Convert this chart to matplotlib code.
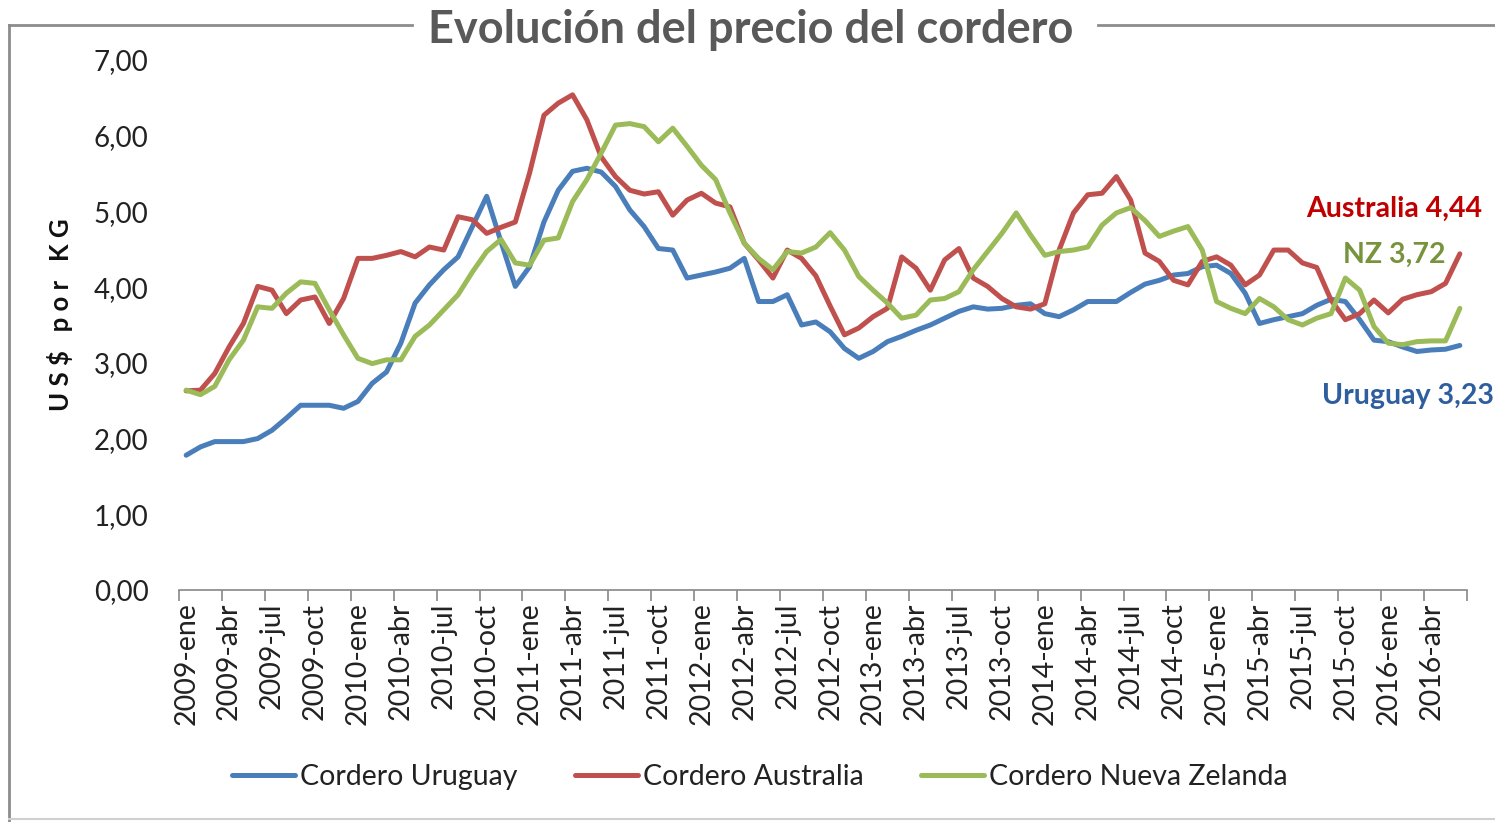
import matplotlib
matplotlib.use("Agg")
import matplotlib.pyplot as plt
from matplotlib.lines import Line2D

years = [2009, 2010, 2011, 2012, 2013, 2014, 2015, 2016]
month_names = ["ene", "feb", "mar", "abr", "may", "jun", "jul", "ago", "sep", "oct", "nov", "dic"]

uruguay = [1.78, 1.89, 1.96, 1.96, 1.96, 2.00, 2.11, 2.27, 2.44, 2.44, 2.44, 2.40,
           2.49, 2.73, 2.88, 3.26, 3.79, 4.03, 4.23, 4.40, 4.80, 5.20, 4.60, 4.01,
           4.27, 4.86, 5.28, 5.53, 5.57, 5.52, 5.33, 5.02, 4.80, 4.51, 4.49, 4.12,
           4.16, 4.20, 4.25, 4.38, 3.81, 3.81, 3.90, 3.50, 3.54, 3.41, 3.19, 3.06,
           3.15, 3.28, 3.35, 3.43, 3.50, 3.59, 3.68, 3.74, 3.71, 3.72, 3.76, 3.78,
           3.65, 3.61, 3.70, 3.81, 3.81, 3.81, 3.93, 4.04, 4.09, 4.16, 4.18, 4.27,
           4.29, 4.18, 3.92, 3.52, 3.57, 3.61, 3.65, 3.76, 3.84, 3.81, 3.57, 3.30,
           3.28, 3.21, 3.15, 3.17, 3.18, 3.23]

australia = [2.63, 2.64, 2.86, 3.21, 3.52, 4.01, 3.96, 3.65, 3.83, 3.87, 3.52, 3.85,
             4.38, 4.38, 4.42, 4.47, 4.40, 4.53, 4.49, 4.93, 4.89, 4.71, 4.79, 4.86,
             5.51, 6.27, 6.43, 6.54, 6.21, 5.72, 5.46, 5.28, 5.23, 5.26, 4.95, 5.15,
             5.24, 5.11, 5.06, 4.58, 4.36, 4.12, 4.49, 4.38, 4.15, 3.75, 3.37, 3.46,
             3.61, 3.72, 4.40, 4.25, 3.96, 4.36, 4.51, 4.12, 4.01, 3.85, 3.74, 3.71,
             3.78, 4.49, 4.98, 5.22, 5.24, 5.46, 5.15, 4.45, 4.34, 4.09, 4.03, 4.34,
             4.40, 4.29, 4.03, 4.16, 4.49, 4.49, 4.32, 4.26, 3.83, 3.57, 3.65, 3.83,
             3.66, 3.84, 3.90, 3.94, 4.05, 4.44]

nueva_zelanda = [2.64, 2.58, 2.69, 3.04, 3.30, 3.74, 3.72, 3.92, 4.07, 4.05, 3.70, 3.37,
                 3.06, 2.99, 3.04, 3.04, 3.35, 3.50, 3.70, 3.90, 4.20, 4.47, 4.63, 4.32,
                 4.29, 4.62, 4.65, 5.13, 5.42, 5.77, 6.14, 6.16, 6.12, 5.92, 6.10, 5.86,
                 5.61, 5.42, 4.98, 4.58, 4.38, 4.23, 4.47, 4.45, 4.53, 4.72, 4.49, 4.14,
                 3.96, 3.79, 3.59, 3.63, 3.83, 3.85, 3.94, 4.23, 4.47, 4.71, 4.98, 4.69,
                 4.42, 4.47, 4.49, 4.53, 4.82, 4.98, 5.05, 4.88, 4.67, 4.74, 4.80, 4.49,
                 3.81, 3.72, 3.65, 3.85, 3.74, 3.57, 3.50, 3.59, 3.65, 4.12, 3.96, 3.48,
                 3.26, 3.24, 3.28, 3.29, 3.29, 3.72]

series_names = ["Cordero Uruguay", "Cordero Australia", "Cordero Nueva Zelanda"]
end_labels = ["Uruguay 3,23", "Australia 4,44", "NZ 3,72"]
title = "Evolución del precio del cordero"
y_label = "U S $   p o r   K G"

months = [f"{y}-{m}" for y in years for m in month_names][:len(uruguay)]

colors = ["#4A7EBB", "#C0504D", "#9BBB59"]
label_colors = ["#2E5E9E", "#C00000", "#77933C"]

plt.rcParams['font.family'] = ['Lato', 'DejaVu Sans']

W, H = 1495, 822
fig = plt.figure(figsize=(W / 100, H / 100), dpi=100)
ax = fig.add_axes([179 / W, 1 - 590 / H, (1467 - 179) / W, (590 - 60) / H])

xs = list(range(len(months)))
for vals, c, name in zip([uruguay, australia, nueva_zelanda], colors, series_names):
    ax.plot(xs, vals, color=c, lw=3.6, label=name, solid_joinstyle='round', solid_capstyle='round')

ax.set_xlim(-0.5, len(months) - 0.5)
ax.set_ylim(0, 7)
ax.set_yticks([0, 1, 2, 3, 4, 5, 6, 7])
ax.set_yticklabels([f"{v:.2f}".replace(".", ",") for v in range(8)], fontsize=20, color="#222222")
ax.tick_params(axis='y', length=0, pad=22)

major = [k - 0.5 for k in range(0, len(months) + 1, 3)]
ax.set_xticks(major)
ax.set_xticklabels([])
ax.tick_params(axis='x', which='major', length=8, color="#888888", width=1.2)
lab_pos = list(range(0, len(months), 3))
ax.set_xticks(lab_pos, minor=True)
ax.set_xticklabels([months[i] for i in lab_pos], minor=True, rotation=90, fontsize=20.5, color="#222222")
ax.tick_params(axis='x', which='minor', length=0, pad=9)

for s in ['top', 'right', 'left']:
    ax.spines[s].set_visible(False)
ax.spines['bottom'].set_color("#888888")
ax.spines['bottom'].set_linewidth(1.2)

fig.text(60 / W, 1 - 315 / H, y_label, rotation=90, ha='center', va='center',
         fontsize=18.5, fontweight='bold', color="#111111")

fig.text(751 / W, 1 - 30 / H, title, ha='center', va='center', fontsize=32.5,
         color="#595959", fontweight='bold')

# annotations for last values
ann_pos = [(1408, 396), (1394, 209), (1394, 255)]
for (x, y), txt, c in zip(ann_pos, end_labels, label_colors):
    fig.text(x / W, 1 - y / H, txt, ha='center', va='center', fontsize=20.5,
             fontweight='bold', color=c)

# frame lines
border = "#8C8C8C"
fig.add_artist(Line2D([9 / W, 9 / W], [0, 1 - 25 / H], color=border, lw=2, transform=fig.transFigure))
fig.add_artist(Line2D([9 / W, 412 / W], [1 - 25 / H, 1 - 25 / H], color=border, lw=2, transform=fig.transFigure))
fig.add_artist(Line2D([1098 / W, 1], [1 - 25 / H, 1 - 25 / H], color=border, lw=2, transform=fig.transFigure))
fig.add_artist(Line2D([9 / W, 1], [1 - 819 / H, 1 - 819 / H], color="#D0D0D0", lw=1.5, transform=fig.transFigure))

leg = fig.legend(loc='center', bbox_to_anchor=(760 / W, 1 - 777 / H), ncol=3, frameon=False,
                 fontsize=20.5, handlelength=2.2, handletextpad=0.2, columnspacing=2.0)
for t in leg.get_texts():
    t.set_color("#222222")

fig.savefig("out.png", dpi=100)
